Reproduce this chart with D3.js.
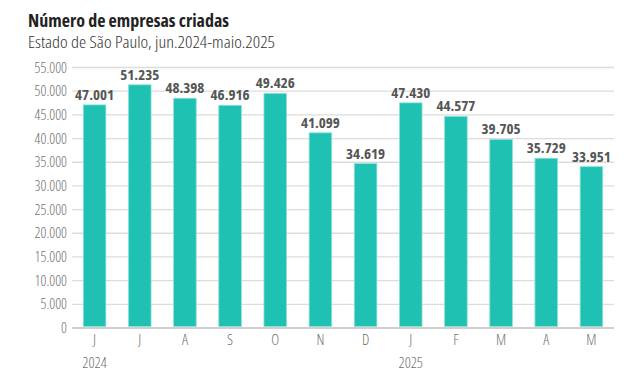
<!DOCTYPE html>
<html><head><meta charset="utf-8">
<script src="https://cdn.jsdelivr.net/npm/d3@7"></script>
<style>
body{margin:0;background:#fff;}
svg text{font-family:"Open Sans","Liberation Sans Narrow","DejaVu Sans Condensed",sans-serif;font-stretch:75%;}
</style></head>
<body><svg id="c" width="639" height="377"></svg>
<script>
const months = ["J","J","A","S","O","N","D","J","F","M","A","M"];
const years = ["2024","","","","","","","2025","","","",""];
const values = [47001,51235,48398,46916,49426,41099,34619,47430,44577,39705,35729,33951];
const yTicks = [0,5000,10000,15000,20000,25000,30000,35000,40000,45000,50000,55000];
const title = "Número de empresas criadas";
const subtitle = "Estado de São Paulo, jun.2024-maio.2025";

const svg = d3.select("#c");
const fmt = d3.formatLocale({decimal:",",thousands:".",grouping:[3],currency:["R$",""]}).format(",d");
const x = d3.scaleBand().domain(d3.range(values.length)).range([72,614]).paddingInner(0.5).paddingOuter(0.25);
const y = d3.scaleLinear().domain([0,55000]).range([327.5,67]);

svg.append("text").attr("x",28).attr("y",27).attr("font-size",18).attr("font-weight",700).attr("fill","#222").text(title);
svg.append("text").attr("x",28).attr("y",48).attr("font-size",17).attr("font-weight",300).attr("fill","#333")
  .attr("textLength",247).attr("lengthAdjust","spacingAndGlyphs").text(subtitle);

const yAxis = svg.append("g").attr("transform","translate(72,0)")
  .call(d3.axisLeft(y).tickValues(yTicks).tickFormat(fmt).tickSize(-542).tickPadding(5));
yAxis.select(".domain").remove();
yAxis.selectAll(".tick line").attr("stroke","#dcdcdc").attr("stroke-width",1.3);
yAxis.selectAll(".tick text").attr("font-size",14.5).attr("font-weight",300).attr("fill","#6f6f6f").attr("dy","0.35em");
yAxis.selectAll(".tick").filter(d=>d===0).select("line").attr("stroke","#cfcfcf").attr("stroke-width",2);

svg.append("g").selectAll("rect").data(values).join("rect")
  .attr("x",(d,i)=>x(i)).attr("width",x.bandwidth())
  .attr("y",d=>y(d)).attr("height",d=>y(0)-y(d)-1)
  .attr("fill","#1ec1b2").attr("stroke","#8fe0d8").attr("stroke-width",0.8);

svg.append("g").selectAll("text").data(values).join("text")
  .attr("x",(d,i)=>x(i)+x.bandwidth()/2).attr("y",d=>y(d)-5)
  .attr("text-anchor","middle").attr("font-size",15).attr("font-weight",700).attr("fill","#555")
  .text(d=>fmt(d));

const xAxis = svg.append("g").attr("transform","translate(0,327.5)")
  .call(d3.axisBottom(x).tickFormat(i=>months[i]).tickSize(0).tickPadding(7));
xAxis.select(".domain").remove();
xAxis.selectAll(".tick text").attr("font-size",15).attr("font-weight",300).attr("fill","#6f6f6f");

svg.append("g").selectAll("text").data(years).join("text")
  .attr("x",(d,i)=>x(i)+x.bandwidth()/2).attr("y",368)
  .attr("text-anchor","middle").attr("font-size",15).attr("font-weight",300).attr("fill","#6f6f6f").text(d=>d);
</script></body></html>
